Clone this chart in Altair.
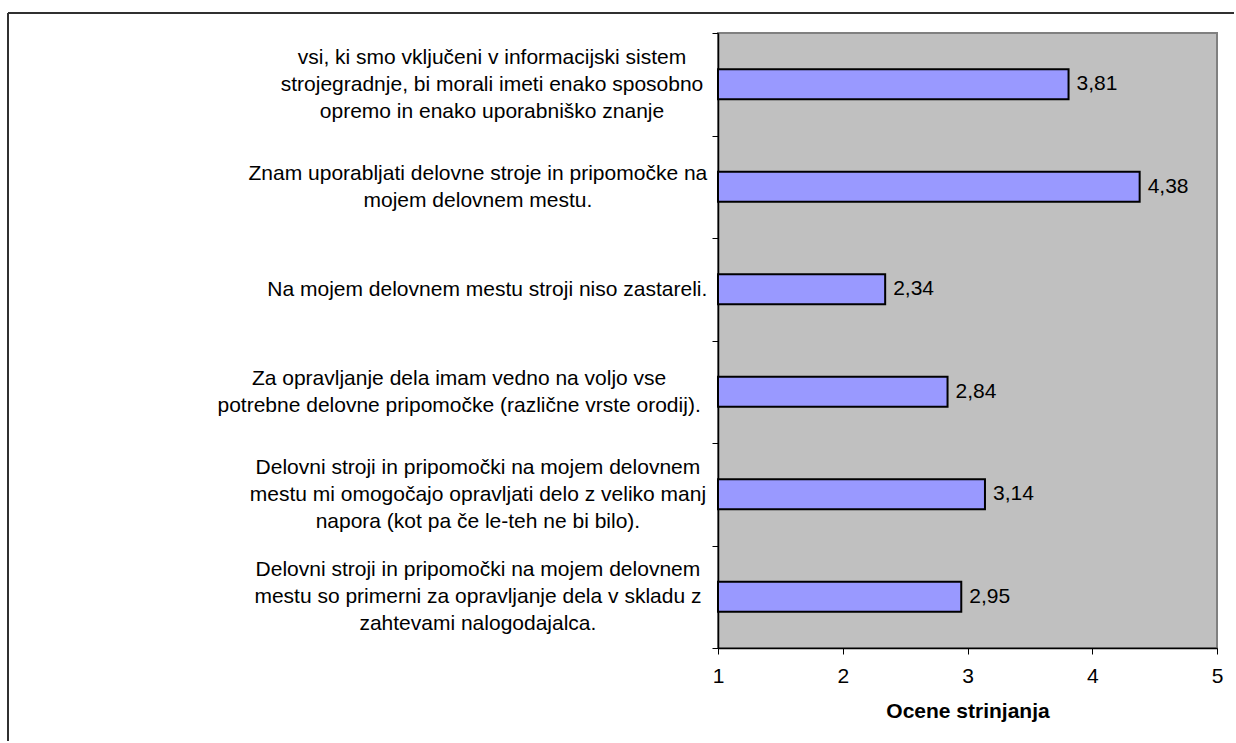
import altair as alt
import pandas as pd

# Survey statements (one list of lines per statement), top to bottom
statements = [
    ["vsi, ki smo vključeni v informacijski sistem",
     "strojegradnje, bi morali imeti enako sposobno",
     "opremo in enako uporabniško znanje"],
    ["Znam uporabljati delovne stroje in pripomočke na",
     "mojem delovnem mestu."],
    ["Na mojem delovnem mestu stroji niso zastareli."],
    ["Za opravljanje dela imam vedno na voljo vse",
     "potrebne delovne pripomočke (različne vrste orodij)."],
    ["Delovni stroji in pripomočki na mojem delovnem",
     "mestu mi omogočajo opravljati delo z veliko manj",
     "napora (kot pa če le-teh ne bi bilo)."],
    ["Delovni stroji in pripomočki na mojem delovnem",
     "mestu so primerni za opravljanje dela v skladu z",
     "zahtevami nalogodajalca."],
]

# Mean agreement scores (scale 1-5)
scores = [3.81, 4.38, 2.34, 2.84, 3.14, 2.95]

x_ticks = [1, 2, 3, 4, 5]
x_title = "Ocene strinjanja"

FONT = "Liberation Sans"
FS = 21
LINE_H = 27

df = pd.DataFrame({
    "statement": ["|".join(lines) for lines in statements],
    "score": scores,
    "base": [x_ticks[0]] * len(scores),
    "label": [f"{s:.2f}".replace(".", ",") for s in scores],
})

# Multi-line labels start at the band centre; lift them so the block is centred
n_lines = "length(split(datum.value, '|'))"
label_offset = {
    "condition": [
        {"test": f"{n_lines} == 3", "value": -LINE_H},
        {"test": f"{n_lines} == 2", "value": -LINE_H / 2},
    ],
    "value": 0,
}

# Lines are centred within each block, and the block sits close to the axis:
# shift each block's centre by roughly half the length of its longest line.
longest = (
    "max(length(split(datum.value, '|')[0]), "
    "length(split(datum.value, '|')[1] || ''), "
    "length(split(datum.value, '|')[2] || ''))"
)
label_padding = {
    "condition": {"test": "false", "value": 239},
    "expr": f"9 + 4.7 * {longest}",
}

y_enc = alt.Y(
    "statement:N",
    sort=None,
    scale=alt.Scale(paddingInner=0, paddingOuter=0),
    axis=alt.Axis(
        title=None,
        labelExpr="split(datum.label, '|')",
        labelAlign="center",
        labelBaseline="middle",
        labelPadding=label_padding,
        labelOffset=label_offset,
        labelLimit=0,
        labelFont=FONT,
        labelFontSize=FS,
        labelLineHeight=LINE_H,
        labelColor="black",
        tickBand="extent",
        tickSize=6,
        tickColor="black",
        domainColor="black",
        domainWidth=1.5,
    ),
)

x_scale = alt.Scale(domain=[x_ticks[0], x_ticks[-1]], nice=False, zero=False)

base = alt.Chart(df).encode(y=y_enc)

bars = base.mark_bar(
    size=30, fill="#9999FF", stroke="black", strokeWidth=2
).encode(
    x=alt.X(
        "score:Q",
        scale=x_scale,
        axis=alt.Axis(
            values=x_ticks,
            format="d",
            title=x_title,
            grid=False,
            labelFont=FONT,
            labelFontSize=FS,
            labelColor="black",
            labelFlush=False,
            labelPadding=11,
            tickSize=6,
            tickColor="black",
            domainColor="black",
            domainWidth=1.5,
            titleFont=FONT,
            titleFontSize=FS,
            titleFontWeight="bold",
            titleColor="black",
            titlePadding=14,
        ),
    ),
    x2="base:Q",
)

values = base.mark_text(
    align="left", baseline="middle", dx=8, font=FONT, fontSize=FS, color="black"
).encode(x=alt.X("score:Q", scale=x_scale), text="label:N")

# Thin page frame along the left and top edges
frame_df = pd.DataFrame({"edge": [0]})
frame_left = alt.Chart(frame_df).mark_rule(color="#303030", strokeWidth=2).encode(
    x=alt.value(-710), y=alt.value(-20), y2=alt.value(708)
)
frame_top = alt.Chart(frame_df).mark_rule(color="#303030", strokeWidth=2).encode(
    x=alt.value(-710), x2=alt.value(516), y=alt.value(-20)
)

chart = alt.layer(bars, values, frame_left, frame_top).properties(
    width=499,
    height=615,
    padding={"left": 7, "top": 12, "right": 0, "bottom": 0},
    background="white",
).configure_view(
    fill="#C0C0C0", stroke="#808080", strokeWidth=2
)

chart.save("out.html", embed_options={"renderer": "svg", "actions": False})
